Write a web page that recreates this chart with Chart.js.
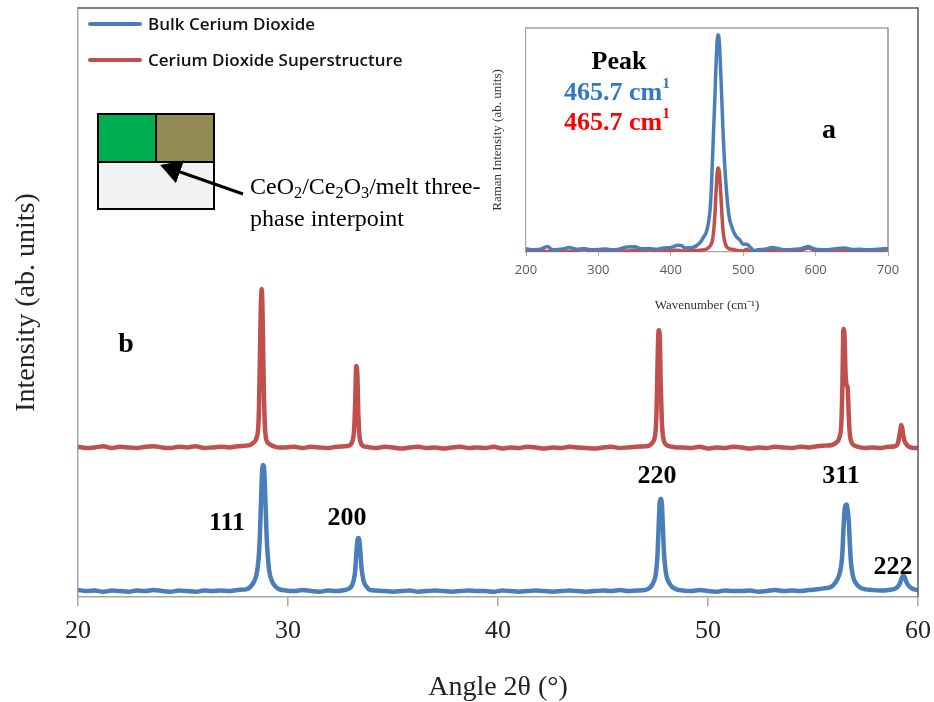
<!DOCTYPE html>
<html>
<head>
<meta charset="utf-8">
<script src="https://cdn.jsdelivr.net/npm/chart.js@4.4.1/dist/chart.umd.min.js"></script>
<style>
  body { margin: 0; background: #fff; }
  #wrap { position: relative; width: 934px; height: 702px; overflow: hidden; }
  #main { position: absolute; left: 0; top: 0; }
  #inset { position: absolute; left: 480px; top: 15px; }
  .lbl { position: absolute; transform: translate(-50%, -50%); white-space: nowrap;
         font-family: 'Liberation Serif', serif; font-weight: bold; color: #000; }
  .legend { position: absolute; left: 88px; font-family: 'Open Sans', sans-serif; font-size: 17px;
            font-weight: 600; color: #111; display: flex; align-items: center; }
  .legend i { display: inline-block; width: 54px; height: 4px; border-radius: 2px; margin-right: 6px; }
  .box { position: absolute; box-sizing: border-box; }
  .note { position: absolute; left: 250px; top: 170px; font-family: 'Liberation Serif', serif;
          font-size: 24px; line-height: 32px; color: #000; white-space: nowrap; }
  .note sub { font-size: 0.68em; vertical-align: -0.25em; line-height: 0; }
  sup { font-size: 0.6em; vertical-align: 0.75em; line-height: 0; }
</style>
</head>
<body>
<div id="wrap">
  <canvas id="main" width="934" height="702"></canvas>
  <canvas id="inset" width="420" height="305"></canvas>

  <div class="legend" style="top:12px"><i style="background:#4a7ebb"></i>Bulk Cerium Dioxide</div>
  <div class="legend" style="top:48px"><i style="background:#c0504d"></i>Cerium Dioxide Superstructure</div>

  <div class="box" style="left:97px;top:113px;width:118px;height:97px;background:#f2f2f2;border:2px solid #000"></div>
  <div class="box" style="left:97px;top:113px;width:60px;height:50px;background:#00b050;border:2px solid #000"></div>
  <div class="box" style="left:155px;top:113px;width:60px;height:50px;background:#948a54;border:2px solid #000"></div>
  <svg style="position:absolute;left:0;top:0" width="934" height="702">
    <defs>
      <marker id="ah" markerWidth="8" markerHeight="8" refX="6" refY="4" orient="auto" markerUnits="strokeWidth">
        <path d="M0,0 L7,4 L0,8 z" fill="#000"/>
      </marker>
    </defs>
    <line x1="243" y1="194" x2="163" y2="166" stroke="#000" stroke-width="3" marker-end="url(#ah)"/>
  </svg>
  <div class="note">CeO<sub>2</sub>/Ce<sub>2</sub>O<sub>3</sub>/melt three-<br>phase interpoint</div>

  <div class="lbl" style="left:126px;top:343px;font-size:28px">b</div>
  <div class="lbl" style="left:227px;top:522px;font-size:26px">111</div>
  <div class="lbl" style="left:347px;top:517px;font-size:26px">200</div>
  <div class="lbl" style="left:657px;top:475px;font-size:26px">220</div>
  <div class="lbl" style="left:841px;top:475px;font-size:26px">311</div>
  <div class="lbl" style="left:893px;top:566px;font-size:26px">222</div>

  <div class="lbl" style="left:619px;top:61px;font-size:26px">Peak</div>
  <div class="lbl" style="left:617px;top:92px;font-size:26px;color:#2f78c4">465.7 cm<sup>1</sup></div>
  <div class="lbl" style="left:617px;top:122px;font-size:26px;color:#ff0000">465.7 cm<sup>1</sup></div>
  <div class="lbl" style="left:829px;top:129px;font-size:28px">a</div>
</div>

<script>
// XRD pattern, angle 2theta (deg)
const angle = [
  20.0, 20.4, 20.8, 21.2, 21.6, 22.0, 22.4, 22.8, 23.2, 23.6, 24.0, 24.4, 24.8, 25.2, 25.6, 26.0, 26.4, 26.8, 27.2, 27.6, 28.0,
  28.2, 28.35, 28.5, 28.6, 28.65, 28.7, 28.75, 28.8, 28.85, 28.9, 28.95, 29.0, 29.1, 29.25, 29.4, 29.6,
  29.9, 30.3, 30.7, 31.1, 31.5, 31.9, 32.3, 32.7,
  32.9, 33.05, 33.15, 33.2, 33.25, 33.3, 33.35, 33.4, 33.45, 33.5, 33.6, 33.75, 33.9,
  34.2, 34.6, 35.0, 35.4, 35.8, 36.2, 36.6, 37.0, 37.4, 37.8, 38.2, 38.6, 39.0, 39.4, 39.8, 40.2, 40.6,
  41.0, 41.4, 41.8, 42.2, 42.6, 43.0, 43.4, 43.8, 44.2, 44.6, 45.0, 45.4, 45.8, 46.2, 46.6, 47.0,
  47.2, 47.35, 47.5, 47.55, 47.6, 47.65, 47.7, 47.75, 47.8, 47.85, 47.9, 48.0, 48.15, 48.3, 48.5,
  48.8, 49.2, 49.6, 50.0, 50.4, 50.8, 51.2, 51.6, 52.0, 52.4, 52.8, 53.2, 53.6, 54.0, 54.4, 54.8, 55.2, 55.6,
  55.9, 56.1, 56.25, 56.35, 56.4, 56.45, 56.5, 56.55, 56.6, 56.65, 56.7, 56.75, 56.8, 56.9, 57.05, 57.25, 57.5,
  57.8, 58.2, 58.6, 58.9,
  59.05, 59.15, 59.2, 59.25, 59.3, 59.35, 59.4, 59.5, 59.65, 59.8, 60.0
];
const bulk = [
  1.2, 1.0, 1.1, 0.9, 1.1, 1.0, 0.9, 1.1, 1.0, 1.2, 1.0, 0.9, 1.1, 1.0, 0.9, 1.1, 1.0, 1.1, 1.0, 1.2, 1.3,
  1.7, 2.4, 3.8, 6.5, 9.5, 14.5, 20.0, 22.4, 22.2, 19.0, 13.5, 9.0, 4.6, 2.6, 1.8, 1.3,
  1.1, 1.0, 1.2, 1.0, 0.9, 1.1, 1.0, 1.2,
  1.4, 2.0, 3.2, 4.5, 7.2, 9.4, 10.0, 9.6, 7.5, 5.0, 2.7, 1.7, 1.2,
  1.1, 1.0, 0.9, 1.0, 1.1, 0.9, 1.0, 1.1, 1.0, 0.9, 1.0, 1.1, 1.0, 1.0, 0.9, 1.1, 1.0,
  0.9, 1.0, 1.1, 1.0, 0.9, 1.0, 1.1, 1.0, 0.9, 1.0, 1.1, 1.0, 1.2, 1.0, 1.1, 1.2,
  1.5, 2.1, 3.6, 5.0, 7.5, 12.0, 16.0, 16.7, 16.0, 12.0, 7.8, 4.0, 2.4, 1.7, 1.3,
  1.1, 1.0, 1.2, 1.0, 0.9, 1.1, 1.0, 1.0, 1.1, 0.9, 1.0, 1.2, 1.0, 1.1, 1.0, 1.2, 1.3, 1.5,
  1.8, 2.6, 3.8, 5.5, 7.6, 11.5, 14.6, 15.6, 15.7, 14.8, 13.0, 9.5, 6.2, 3.6, 2.3, 1.6, 1.3,
  1.2, 1.1, 1.2, 1.4,
  1.8, 2.4, 3.0, 3.4, 3.6, 3.5, 3.0, 2.2, 1.6, 1.3, 1.2
];
const superstructure = [
  25.5, 25.3, 25.4, 25.6, 25.3, 25.5, 25.4, 25.3, 25.5, 25.6, 25.4, 25.3, 25.5, 25.4, 25.6, 25.3, 25.4, 25.5, 25.4, 25.6, 25.7,
  25.8, 26.2, 27.0, 30.0, 38.0, 48.5, 52.3, 46.0, 35.0, 29.0, 27.0, 26.4, 26.0, 25.7, 25.5, 25.4,
  25.4, 25.5, 25.3, 25.5, 25.4, 25.3, 25.5, 25.6,
  25.7, 26.3, 28.5, 33.0, 39.2, 38.0, 31.0, 27.5, 26.4, 25.9, 25.6, 25.5, 25.4,
  25.3, 25.5, 25.4, 25.2, 25.4, 25.5, 25.3, 25.4, 25.2, 25.4, 25.5, 25.3, 25.4, 25.3, 25.5, 25.2, 25.4,
  25.3, 25.5, 25.4, 25.2, 25.4, 25.3, 25.5, 25.4, 25.3, 25.2, 25.4, 25.5, 25.3, 25.4, 25.5, 25.6,
  25.7, 26.2, 28.0, 31.5, 40.0, 45.3, 44.5, 36.0, 30.0, 27.5, 26.5, 25.9, 25.6, 25.5, 25.4,
  25.4, 25.3, 25.5, 25.2, 25.4, 25.3, 25.5, 25.4, 25.2, 25.4, 25.3, 25.5, 25.4, 25.3, 25.5, 25.4, 25.6, 25.7,
  25.8, 26.2, 27.0, 29.5, 36.0, 45.5, 44.5, 38.0, 36.0, 35.5, 31.0, 27.8, 26.6, 25.9, 25.6, 25.4, 25.3,
  25.4, 25.3, 25.5, 25.6,
  26.2, 28.2, 29.2, 28.6, 27.4, 26.6, 26.2, 25.7, 25.4, 25.3, 25.3
];
const angleTicks = [20, 30, 40, 50, 60];

// Raman inset
const wavenumber = [
  200, 210, 220, 230, 235, 240, 250, 260, 270, 280, 290, 300, 310, 320, 330, 340, 350, 360, 370, 380, 390, 400,
  410, 415, 420, 430, 440, 445, 450, 455, 458, 461, 463, 465, 467, 469, 472, 475, 480, 485, 490, 495, 500,
  505, 510, 515, 520, 530, 540, 550, 560, 570, 580, 590, 600, 610, 620, 630, 640, 650, 660, 670, 680, 690, 700
];
const ramanBulk = [
  1.5, 1.0, 1.2, 2.5, 1.2, 1.0, 1.3, 2.0, 1.2, 1.6, 1.0, 1.1, 1.3, 1.0, 1.4, 2.2, 2.3, 1.4, 1.6, 1.2, 1.8, 2.0,
  3.0, 2.8, 1.8, 2.0, 4.0, 6.5, 10.0, 22.0, 45.0, 70.0, 88.0, 97.0, 94.0, 80.0, 55.0, 36.0, 17.0, 10.5, 7.0, 5.5, 3.5,
  3.5, 2.0, 0.6, 1.0, 1.2, 2.0, 1.4, 1.0, 1.2, 1.5, 2.4, 1.2, 1.0, 1.1, 1.6, 1.8, 1.1, 1.2, 1.0, 1.1, 1.3, 1.5
];
const ramanSuper = [
  0.3, 0.0, 0.5, 0.2, 0.4, 0.3, 0.6, 0.2, 0.5, 1.2, 0.4, 0.2, 0.9, 0.3, 0.5, 0.4, 0.8, 0.6, 1.0, 0.4, 0.6, 0.7,
  0.8, 0.5, 0.4, 0.6, 0.8, 1.0, 1.5, 3.0, 6.0, 17.0, 30.0, 37.5, 36.0, 26.0, 10.0, 4.0, 1.5, 1.2, 0.8, 0.6, 0.4,
  1.2, 0.0, 0.3, 0.6, 0.4, 0.8, 0.5, 0.6, 0.4, 0.7, 1.8, 0.6, 0.4, 0.3, 0.8, 0.6, 0.4, 0.3, 0.5, 0.4, 0.7, 1.2
];
const wavenumberTicks = [200, 300, 400, 500, 600, 700];

const BLUE = '#4a7ebb';
const RED = '#c0504d';
const SERIF = "'Liberation Serif', 'Times New Roman', serif";

const toPoints = (xs, ys) => xs.map((x, i) => ({ x: x, y: ys[i] }));

// draws the dark top / right edges of the plot frame
const framePlugin = {
  id: 'frame',
  afterDraw(chart, args, opts) {
    const { ctx, chartArea: a } = chart;
    ctx.save();
    ctx.strokeStyle = opts.color || '#595959';
    ctx.lineWidth = opts.width || 1.5;
    ctx.beginPath();
    ctx.moveTo(a.left, a.top);
    ctx.lineTo(a.right, a.top);
    ctx.lineTo(a.right, a.bottom);
    ctx.stroke();
    ctx.restore();
  }
};

new Chart(document.getElementById('main'), {
  type: 'line',
  data: {
    datasets: [
      {
        label: 'Cerium Dioxide Superstructure',
        data: toPoints(angle, superstructure),
        borderColor: RED,
        borderWidth: 4.5,
        pointRadius: 0,
        cubicInterpolationMode: 'monotone'
      },
      {
        label: 'Bulk Cerium Dioxide',
        data: toPoints(angle, bulk),
        borderColor: BLUE,
        borderWidth: 4.5,
        pointRadius: 0,
        cubicInterpolationMode: 'monotone'
      }
    ]
  },
  options: {
    responsive: false,
    animation: false,
    layout: { padding: { top: 8, right: 16, left: 0, bottom: 0 } },
    plugins: {
      legend: { display: false },
      tooltip: { enabled: false },
      frame: { color: '#5a5a5a', width: 1.5 }
    },
    scales: {
      x: {
        type: 'linear',
        min: 20,
        max: 60,
        afterBuildTicks: (scale) => { scale.ticks = angleTicks.map(v => ({ value: v })); },
        afterFit: (scale) => { scale.height = 105; scale.paddingLeft = 0; scale.paddingRight = 0; },
        grid: { drawOnChartArea: false, color: '#a6a6a6', tickLength: 9, lineWidth: 1.5 },
        border: { color: '#a6a6a6', width: 1.5 },
        ticks: { font: { family: SERIF, size: 26 }, color: '#222', padding: 10 },
        title: {
          display: true,
          text: 'Angle 2θ (°)',
          font: { family: SERIF, size: 28, lineHeight: 1.0 },
          color: '#222',
          padding: { top: 0, bottom: 0 }
        }
      },
      y: {
        min: 0,
        max: 100,
        afterFit: (scale) => { scale.width = 78; },
        grid: { display: false },
        border: { color: '#a6a6a6', width: 1.5 },
        ticks: { display: false },
        title: {
          display: true,
          text: 'Intensity (ab. units)',
          font: { family: SERIF, size: 28 },
          color: '#222',
          padding: { top: 10, bottom: 0 }
        }
      }
    }
  },
  plugins: [framePlugin]
});

new Chart(document.getElementById('inset'), {
  type: 'line',
  data: {
    datasets: [
      {
        label: 'Bulk',
        data: toPoints(wavenumber, ramanBulk),
        borderColor: BLUE,
        borderWidth: 3.5,
        pointRadius: 0,
        cubicInterpolationMode: 'monotone'
      },
      {
        label: 'Superstructure',
        data: toPoints(wavenumber, ramanSuper),
        borderColor: RED,
        borderWidth: 3.5,
        pointRadius: 0,
        cubicInterpolationMode: 'monotone'
      }
    ]
  },
  options: {
    responsive: false,
    animation: false,
    layout: { padding: { top: 13, right: 12, left: 0, bottom: 0 } },
    plugins: {
      legend: { display: false },
      tooltip: { enabled: false },
      frame: { color: '#777', width: 1.2 }
    },
    scales: {
      x: {
        type: 'linear',
        min: 200,
        max: 700,
        afterBuildTicks: (scale) => { scale.ticks = wavenumberTicks.map(v => ({ value: v })); },
        afterFit: (scale) => { scale.height = 68; scale.paddingLeft = 0; scale.paddingRight = 0; },
        grid: { drawOnChartArea: false, color: '#a6a6a6', tickLength: 4 },
        border: { color: '#a6a6a6', width: 1.2 },
        ticks: { font: { family: "'Open Sans', sans-serif", size: 13 }, color: '#595959', padding: 6 },
        title: {
          display: true,
          text: 'Wavenumber (cm⁻¹)',
          font: { family: SERIF, size: 13 },
          color: '#333',
          padding: { top: 0, bottom: 7 }
        }
      },
      y: {
        min: 0,
        max: 100,
        afterFit: (scale) => { scale.width = 46; },
        grid: { display: false },
        border: { color: '#a6a6a6', width: 1.2 },
        ticks: { display: false },
        title: {
          display: true,
          text: 'Raman Intensity (ab. units)',
          font: { family: SERIF, size: 13 },
          color: '#333',
          padding: { top: 10, bottom: 0 }
        }
      }
    }
  },
  plugins: [framePlugin]
});
</script>
</body>
</html>
